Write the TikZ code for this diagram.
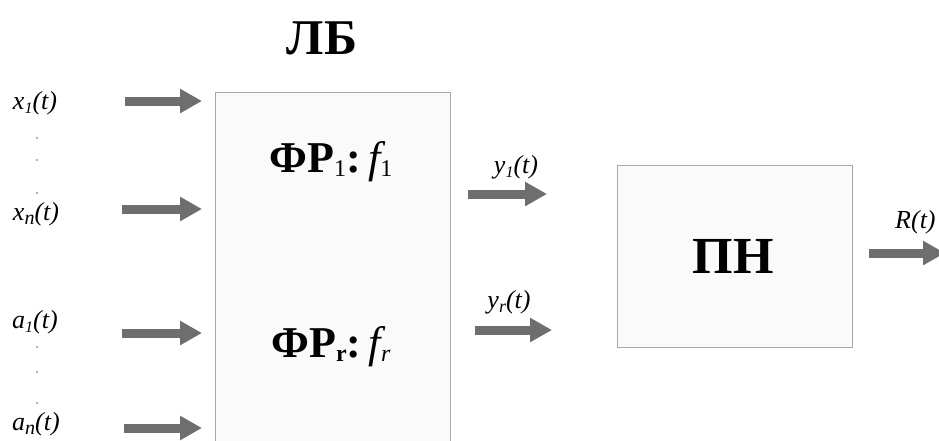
\documentclass[tikz,border=0pt]{standalone}
\usepackage{fontspec}
\setmainfont{Liberation Serif}
\usetikzlibrary{arrows.meta}
\definecolor{arrowgray}{HTML}{6E6E6E}
\definecolor{boxline}{HTML}{A8A8A8}
\definecolor{boxfill}{HTML}{FAFAFA}
\tikzset{
  blockbox/.style={draw=boxline, line width=1.2pt, fill=boxfill, inner sep=0pt, anchor=north west},
  blockarrow/.style={arrowgray, line width=9pt, -{Triangle[length=22pt,width=23pt]}},
  siglabel/.style={font=\fontsize{26}{28}\selectfont\itshape, inner sep=0pt},
  bigtitle/.style={font=\fontsize{50}{52}\selectfont\bfseries, inner sep=0pt},
  functext/.style={font=\fontsize{44}{46}\selectfont\bfseries, inner sep=0pt},
  vdot/.style={circle, fill=gray!80, inner sep=0pt, minimum size=2.2pt}
}
\newcommand{\lowsub}[2]{\raisebox{-4pt}{\fontsize{#1}{#1}\selectfont #2}}
\begin{document}
\begin{tikzpicture}[x=1pt,y=-1pt]
\useasboundingbox (0,0) rectangle (939,440);
\clip (0,0) rectangle (939,440);
\fill[white] (0,0) rectangle (939,440);

% boxes
\node[blockbox, minimum width=235pt, minimum height=370pt] (lb) at (215,92) {};
\node[blockbox, minimum width=235pt, minimum height=182pt] (pn) at (617,165) {};

% titles
\node[bigtitle] (lbt) at (322,38) {ЛБ};
\node[font=\fontsize{52}{54}\selectfont\bfseries, inner sep=0pt] (pnt) at (733,256) {ПН};
\node[functext] (fr1) at (331,162) {ФР\lowsub{24}{\mdseries 1}:\,{\mdseries\itshape f}\lowsub{24}{\mdseries 1}};
\node[functext] (frr) at (331,347) {ФР\lowsub{24}{r}:\,{\mdseries\itshape f}\lowsub{24}{\mdseries\itshape r}};

% input labels
\node[siglabel] (x1) at (35,103) {x\lowsub{16}{1}(t)};
\node[siglabel] (xn) at (36,214) {x\lowsub{20}{n}(t)};
\node[siglabel] (a1) at (35,322) {a\lowsub{16}{1}(t)};
\node[siglabel] (an) at (36,424) {a\lowsub{20}{n}(t)};
\foreach \yy in {138,160,193,347,372,403}
  \node[vdot] at (37,\yy) {};

% input arrows
\coordinate (x1s) at (125,101);
\coordinate (xns) at (122,209);
\coordinate (a1s) at (122,333);
\coordinate (ans) at (124,428);
\draw[blockarrow, shorten >=13pt] (x1s) -- (x1s -| lb.west);
\draw[blockarrow, shorten >=13pt] (xns) -- (xns -| lb.west);
\draw[blockarrow, shorten >=13pt] (a1s) -- (a1s -| lb.west);
\draw[blockarrow, shorten >=13pt] (ans) -- (ans -| lb.west);

% outputs
\node[siglabel] (y1) at (516,167) {y\lowsub{16}{1}(t)};
\node[siglabel] (yr) at (509,302) {y\lowsub{18}{r}(t)};
\coordinate (y1s) at (468,194);
\coordinate (yrs) at (475,330);
\draw[blockarrow, shorten >=70pt] (y1s) -- (y1s -| pn.west);
\draw[blockarrow, shorten >=65pt] (yrs) -- (yrs -| pn.west);

\node[siglabel, anchor=west] (rt) at (895,222) {R(t)};
\coordinate (rts) at (869,253);
\coordinate (rte) at (945,253);
\draw[blockarrow] (rts) -- (rte);
\end{tikzpicture}
\end{document}
